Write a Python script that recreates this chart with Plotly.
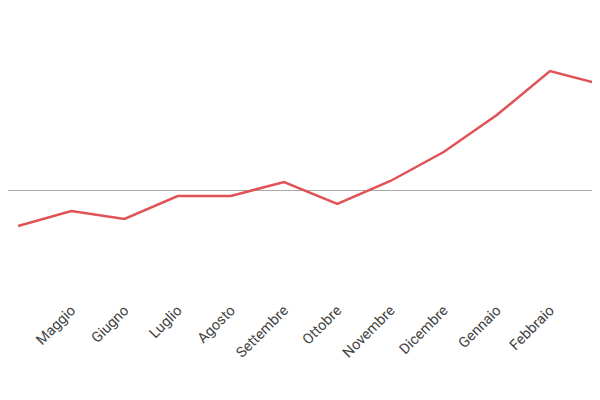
import plotly.graph_objects as go

mesi = ["Aprile", "Maggio", "Giugno", "Luglio", "Agosto", "Settembre", "Ottobre",
        "Novembre", "Dicembre", "Gennaio", "Febbraio", "Marzo", "Aprile"]
valori = [-36, -21, -29, -6, -6, 8, -14, 9, 38, 75, 119, 105, 122]
idx = list(range(len(mesi)))

fig = go.Figure(go.Scatter(
    x=idx, y=valori, mode="lines",
    line=dict(color="#e05256", width=2.5),
    hoverinfo="skip",
))

fig.update_layout(
    width=600, height=400,
    margin=dict(l=0, r=0, t=0, b=110, autoexpand=False),
    paper_bgcolor="white", plot_bgcolor="white",
    showlegend=False,
    font=dict(family="Roboto", size=14.5, color="#444"),
    xaxis=dict(range=[-0.19, 11.09], tickvals=idx, ticktext=mesi, tickangle=-45,
               showgrid=False, zeroline=False, showline=False, ticks="",
               ticklen=0, automargin=False),
    yaxis=dict(range=[-108, 182], visible=True, showticklabels=False,
               showgrid=False, zeroline=True, zerolinecolor="#aaa",
               zerolinewidth=1, showline=False, automargin=False),
)

fig.write_html("out.html")
